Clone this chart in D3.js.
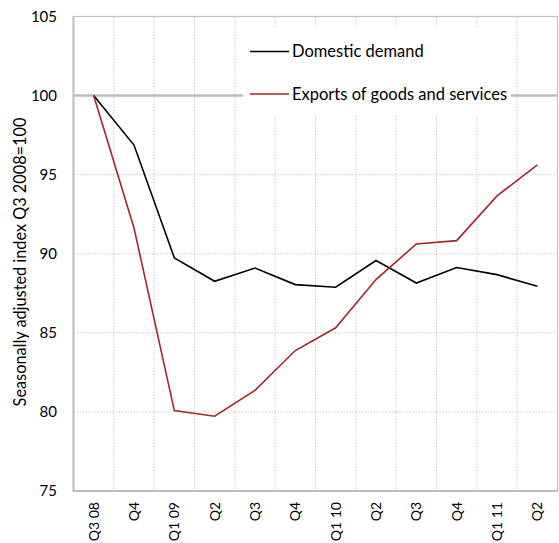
<!DOCTYPE html>
<html><head><meta charset="utf-8">
<script src="https://cdn.jsdelivr.net/npm/d3@7/dist/d3.min.js"></script>
<style>body{margin:0;background:#fff}svg{display:block}text{font-family:Lato,"Open Sans",sans-serif;fill:#000}</style>
</head><body><svg id="c" width="559" height="543"></svg>
<script>
const categories = ["Q3 08","Q4","Q1 09","Q2","Q3","Q4","Q1 10","Q2","Q3","Q4","Q1 11","Q2"];
const domesticDemand = [100, 96.87, 89.74, 88.26, 89.1, 88.05, 87.88, 89.57, 88.15, 89.13, 88.68, 87.94];
const exportsGS = [100, 91.63, 80.08, 79.73, 81.36, 83.88, 85.32, 88.37, 90.62, 90.83, 93.66, 95.62];
const yTicks = [75, 80, 85, 90, 95, 100, 105];
const seriesNames = ["Domestic demand", "Exports of goods and services"];
const seriesColors = ["#000000", "#a8252b"];

const svg = d3.select("#c");
const L = 73.5, R = 557.5, T = 16.5, B = 491;
const x = d3.scaleBand().domain(d3.range(categories.length)).range([L, R]);
const y = d3.scaleLinear().domain([75, 105]).range([B, T]);

// vertical dotted gridlines at band edges
svg.append("g").selectAll("line").data(d3.range(1, categories.length)).join("line")
  .attr("x1", d => x(d)).attr("x2", d => x(d)).attr("y1", T).attr("y2", B)
  .attr("stroke", "#c8c8c8").attr("stroke-width", 1).attr("stroke-dasharray", "1.5,1.5");
// horizontal dotted gridlines
svg.append("g").selectAll("line").data(yTicks.filter(v => v > 75 && v < 100)).join("line")
  .attr("x1", L).attr("x2", R).attr("y1", d => y(d)).attr("y2", d => y(d))
  .attr("stroke", "#c8c8c8").attr("stroke-width", 1).attr("stroke-dasharray", "1.5,1.5");
// 100 reference line
svg.append("line").attr("x1", L).attr("x2", R).attr("y1", y(100)).attr("y2", y(100))
  .attr("stroke", "#bdbdbd").attr("stroke-width", 2.5);
// frame
svg.append("rect").attr("x", L).attr("y", T).attr("width", R - L).attr("height", B - T)
  .attr("fill", "none").attr("stroke", "#c4c4c4").attr("stroke-width", 1.2);
svg.append("line").attr("x1", L).attr("x2", L).attr("y1", T).attr("y2", B + 1)
  .attr("stroke", "#bdbdbd").attr("stroke-width", 2);
svg.append("line").attr("x1", L).attr("x2", R).attr("y1", B).attr("y2", B)
  .attr("stroke", "#bdbdbd").attr("stroke-width", 2);

// y tick labels
svg.append("g").selectAll("text").data(yTicks).join("text")
  .attr("x", 57).attr("y", d => y(d)).attr("dy", "0.35em").attr("text-anchor", "end")
  .attr("font-size", 15).text(d => d);

// x tick labels rotated
svg.append("g").selectAll("text").data(categories).join("text")
  .attr("transform", (d, i) => `translate(${x(i) + x.bandwidth() / 2 + 5},502) rotate(-90)`)
  .attr("text-anchor", "end").attr("font-size", 14).text(d => d);

// y title
svg.append("text").attr("transform", "translate(26,262) rotate(-90)")
  .attr("text-anchor", "middle").attr("font-size", 16.3)
  .text("Seasonally adjusted index Q3 2008=100");

// legend box
svg.append("rect").attr("x", 243).attr("y", 28).attr("width", 268).attr("height", 88).attr("fill", "#fff");

// lines
const line = d3.line().x((d, i) => x(i) + x.bandwidth() / 2).y(d => y(d));
[domesticDemand, exportsGS].forEach((s, k) => {
  svg.append("path").datum(s).attr("d", line).attr("fill", "none")
    .attr("stroke", seriesColors[k]).attr("stroke-width", 1.6).attr("stroke-linejoin", "miter");
});

// legend
const lg = svg.append("g");
[51.5, 94].forEach((ly, k) => {
  lg.append("line").attr("x1", 250).attr("x2", 289).attr("y1", ly).attr("y2", ly)
    .attr("stroke", seriesColors[k]).attr("stroke-width", 1.6);
  lg.append("text").attr("x", 292).attr("y", ly).attr("dy", "0.35em").attr("font-size", 16.5)
    .text(seriesNames[k]);
});
</script></body></html>
